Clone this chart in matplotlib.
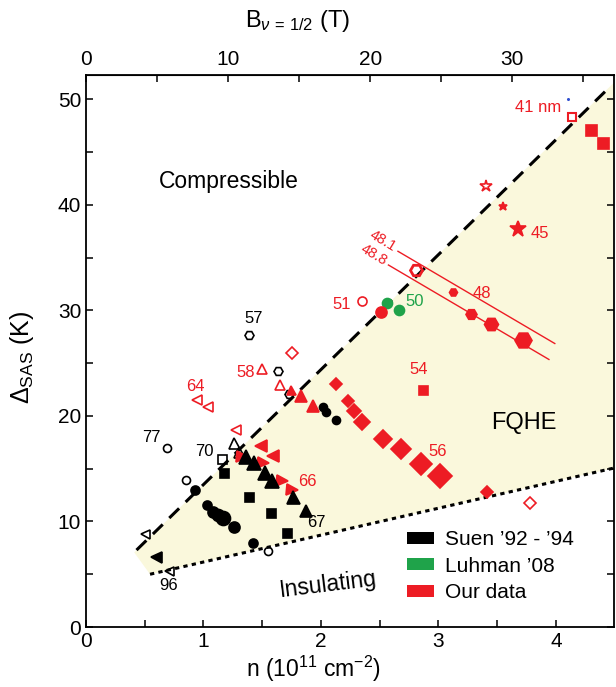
import matplotlib
matplotlib.use('Agg')
import matplotlib.pyplot as plt
from matplotlib.patches import Patch, Polygon

plt.rcParams['font.family'] = ['Liberation Sans', 'DejaVu Sans']
plt.rcParams['mathtext.fontset'] = 'custom'
plt.rcParams['mathtext.rm'] = 'Liberation Sans'
plt.rcParams['mathtext.it'] = 'Liberation Sans:italic'
plt.rcParams['mathtext.sf'] = 'Liberation Sans'

RED = '#ED1C24'
GREEN = '#1FA34A'
BLACK = '#000000'
FILL = '#FAF8DC'

# ---- our data (red) ----
r_sq_open_n, r_sq_open_d = [4.14], [48.3]
r_sq_n, r_sq_d = [4.30, 4.40, 2.865], [47.1, 45.9, 22.47]
r_star_open_n, r_star_open_d = [3.405], [41.8]
r_star_n, r_star_d = [3.55, 3.68], [39.9, 37.7]
r_hex_open_n, r_hex_open_d = [2.81], [33.8]
r_hex_n, r_hex_d = [3.12, 3.28, 3.446, 3.72], [31.7, 29.7, 28.7, 27.2]
r_circ_open_n, r_circ_open_d = [2.353], [30.9]
r_circ_n, r_circ_d = [2.51], [29.8]
r_dia_n = [2.126, 2.232, 2.28, 2.353, 2.526, 2.684, 2.848, 3.009, 3.417]
r_dia_d = [22.98, 21.4, 20.45, 19.4, 17.8, 16.85, 15.4, 14.3, 12.8]
r_dia_open_n, r_dia_open_d = [1.75, 3.776], [26.0, 11.76]
r_up_open_n, r_up_open_d = [1.50, 1.651], [24.4, 22.9]
r_up_n, r_up_d = [1.745, 1.827, 1.93], [22.5, 21.9, 20.9]
r_left_open_n, r_left_open_d = [0.942, 1.041, 1.274], [21.5, 20.8, 18.65]
r_left_n, r_left_d = [1.49, 1.594], [17.17, 16.2]
r_right_n, r_right_d = [1.33, 1.504, 1.665, 1.75], [16.1, 15.5, 13.85, 12.97]

# ---- Luhman '08 (green) ----
g_n, g_d = [2.563, 2.66], [30.7, 30.0]

# ---- Suen '92 - '94 (black) ----
k_hex_open_n, k_hex_open_d = [1.385, 1.637, 1.73], [27.7, 24.24, 22.1]
k_circ_open_n, k_circ_open_d = [0.687, 0.851, 1.552], [17.0, 13.9, 7.2]
k_sq_open_n, k_sq_open_d = [1.157], [15.94]
k_up_open_n, k_up_open_d = [1.26, 1.305], [17.4, 16.6]
k_up_n = [1.362, 1.43, 1.523, 1.58, 1.759, 1.87]
k_up_d = [16.07, 15.5, 14.6, 13.8, 12.3, 11.0]
k_sq_n, k_sq_d = [1.174, 1.39, 1.577, 1.708], [14.6, 12.3, 10.77, 8.87]
k_circ_n = [0.928, 1.032, 1.083, 1.126, 1.163, 1.262, 1.418, 2.014, 2.046, 2.126]
k_circ_d = [12.97, 11.6, 10.9, 10.6, 10.35, 9.44, 8.0, 20.87, 20.4, 19.66]
k_left_open_n, k_left_open_d = [0.502, 0.709], [8.8, 5.33]
k_left_n, k_left_d = [0.60], [6.66]

# boundaries of the FQHE region
upper_n, upper_d = [0.43, 4.47], [7.29, 51.3]
lower_n, lower_d = [0.545, 4.5], [5.0, 15.08]
fill_n = [0.41, 4.5, 4.5, 0.545]
fill_d = [7.07, 51.65, 15.08, 5.0]

# constant well width lines
w481_n, w481_d = [2.655, 3.99], [35.6, 26.86]
w488_n, w488_d = [2.574, 3.94], [34.3, 25.35]

fig = plt.figure(figsize=(6.16, 6.87), dpi=100)
ax = fig.add_axes([0.1396, 0.0873, 0.8572, 0.8035])

ax.add_patch(Polygon(list(zip(fill_n, fill_d)), closed=True, fc=FILL, ec='none', zorder=0))
ax.plot(upper_n, upper_d, color='k', lw=2.2, dashes=(4.5, 3.0), zorder=1)
ax.plot(lower_n, lower_d, color='k', lw=2.2, dashes=(1.4, 1.4), zorder=1)

ax.plot(w481_n, w481_d, color=RED, lw=1.0, zorder=2)
ax.plot(w488_n, w488_d, color=RED, lw=1.0, zorder=2)


def pts(n, d, marker, color, sizes, filled=True, mew=1.2, z=3):
    if not isinstance(sizes, list):
        sizes = [sizes] * len(n)
    for x, y, s in zip(n, d, sizes):
        ax.plot([x], [y], marker=marker, ms=s * 0.72, color=color,
                mfc=color if filled else 'none', mec=color, mew=mew,
                ls='none', zorder=z)


# black
pts(k_circ_n, k_circ_d, 'o', BLACK, [9, 9, 11, 12, 14, 11, 9, 8, 8, 8])
pts(k_sq_n, k_sq_d, 's', BLACK, 9)
pts(k_up_n, k_up_d, '^', BLACK, [14, 14, 14, 14, 13, 12], z=4)
pts(k_left_n, k_left_d, '<', BLACK, 11)
pts(k_hex_open_n, k_hex_open_d, 'H', BLACK, 9, filled=False)
pts(k_circ_open_n, k_circ_open_d, 'o', BLACK, 8, filled=False)
pts(k_sq_open_n, k_sq_open_d, 's', BLACK, 9, filled=False)
pts(k_up_open_n, k_up_open_d, '^', BLACK, 11, filled=False)
pts(k_left_open_n, k_left_open_d, '<', BLACK, 9, filled=False)

# green
pts(g_n, g_d, 'o', GREEN, 10)

# red
pts(r_sq_open_n, r_sq_open_d, 's', RED, 8, filled=False, mew=1.5)
pts(r_sq_n, r_sq_d, 's', RED, [11, 11, 9])
pts(r_star_open_n, r_star_open_d, '*', RED, 13, filled=False)
pts(r_star_n, r_star_d, '*', RED, [9, 17])
pts(r_hex_open_n, r_hex_open_d, 'H', RED, 12, filled=False, mew=2)
pts(r_hex_n, r_hex_d, 'H', RED, [8, 11, 14, 17])
pts(r_circ_open_n, r_circ_open_d, 'o', RED, 9, filled=False)
pts(r_circ_n, r_circ_d, 'o', RED, 11)
pts(r_dia_n, r_dia_d, 'D', RED, [8, 9, 10, 11, 13, 14, 16, 17, 9])
pts(r_dia_open_n, r_dia_open_d, 'D', RED, 8, filled=False)
pts(r_up_open_n, r_up_open_d, '^', RED, 10, filled=False)
pts(r_up_n, r_up_d, '^', RED, [9, 12, 12])
pts(r_left_open_n, r_left_open_d, '<', RED, 10, filled=False)
pts(r_left_n, r_left_d, '<', RED, 12)
pts(r_right_n, r_right_d, '>', RED, 11, z=3)

ax.plot([4.10], [50.05], 'o', ms=1.2, color='#3050D0', zorder=3)

# labels
lab = 12
for txt, x, y, c in [('57', 1.43, 29.2, BLACK), ('77', 0.56, 18.0, BLACK),
                     ('70', 1.01, 16.6, BLACK), ('67', 1.96, 9.9, BLACK),
                     ('96', 0.70, 3.9, BLACK),
                     ('41 nm', 3.85, 49.2, RED), ('45', 3.86, 37.25, RED),
                     ('48', 3.37, 31.56, RED), ('51', 2.18, 30.6, RED),
                     ('54', 2.83, 24.37, RED), ('56', 2.99, 16.6, RED),
                     ('58', 1.36, 24.1, RED), ('64', 0.93, 22.75, RED),
                     ('66', 1.88, 13.76, RED), ('50', 2.80, 30.8, GREEN)]:
    ax.text(x, y, txt, color=c, fontsize=lab, ha='center', va='center', zorder=5)

ax.text(2.526, 36.6, '48.1', color=RED, fontsize=10.5, rotation=-31,
        ha='center', va='center', rotation_mode='anchor')
ax.text(2.447, 35.3, '48.8', color=RED, fontsize=10.5, rotation=-31,
        ha='center', va='center', rotation_mode='anchor')

ax.text(1.217, 42.2, 'Compressible', fontsize=16.5, ha='center', va='center')
ax.text(3.724, 19.34, 'FQHE', fontsize=17, ha='center', va='center')
ax.text(2.06, 3.98, 'Insulating', fontsize=16.5, ha='center', va='center', rotation=7)

handles = [Patch(fc=BLACK, ec='none'), Patch(fc=GREEN, ec='none'), Patch(fc=RED, ec='none')]
ax.legend(handles, ["Suen \u201992 - \u201994", "Luhman \u201908", 'Our data'],
          loc='lower left', bbox_to_anchor=(0.56, 0.0), frameon=False,
          fontsize=15, handlelength=1.3, handleheight=0.5,
          handletextpad=0.53, labelspacing=0.36, borderaxespad=0.8)

ax.set_xlim(0, 4.494)
ax.set_ylim(0, 52.3)
ax.set_xticks([0, 1, 2, 3, 4])
ax.set_xticks([0.5, 1.5, 2.5, 3.5], minor=True)
ax.set_yticks([0, 10, 20, 30, 40, 50])
ax.set_yticks([5, 15, 25, 35, 45], minor=True)
ax.tick_params(which='both', direction='in', length=5, width=1.1,
               labelsize=15, right=True, top=False, pad=3.5)
ax.tick_params(axis='y', which='both', labelright=False)
for s in ax.spines.values():
    s.set_linewidth(1.3)

B_PER_N = 8.27
top = ax.secondary_xaxis('top', functions=(lambda x: x * B_PER_N, lambda b: b / B_PER_N))
top.set_xticks([0, 10, 20, 30])
top.set_xticks([5, 15, 25, 35], minor=True)
top.tick_params(which='both', direction='in', length=5, width=1.1, labelsize=15, pad=4)

fig.text(313 / 616, 1 - 684 / 687, 'n (10$^{11}$ cm$^{-2}$)', fontsize=16.5,
         ha='center', va='bottom')
fig.text(22 / 616, 1 - 357 / 687, '$\\Delta_{\\rm SAS}$ (K)', fontsize=18,
         ha='center', va='center', rotation=90)
fig.text(298 / 616, 1 - 21 / 687, 'B$_{\\nu\\,=\\,1/2}$ (T)', fontsize=17,
         ha='center', va='center')

fig.savefig('out.png', dpi=100)
